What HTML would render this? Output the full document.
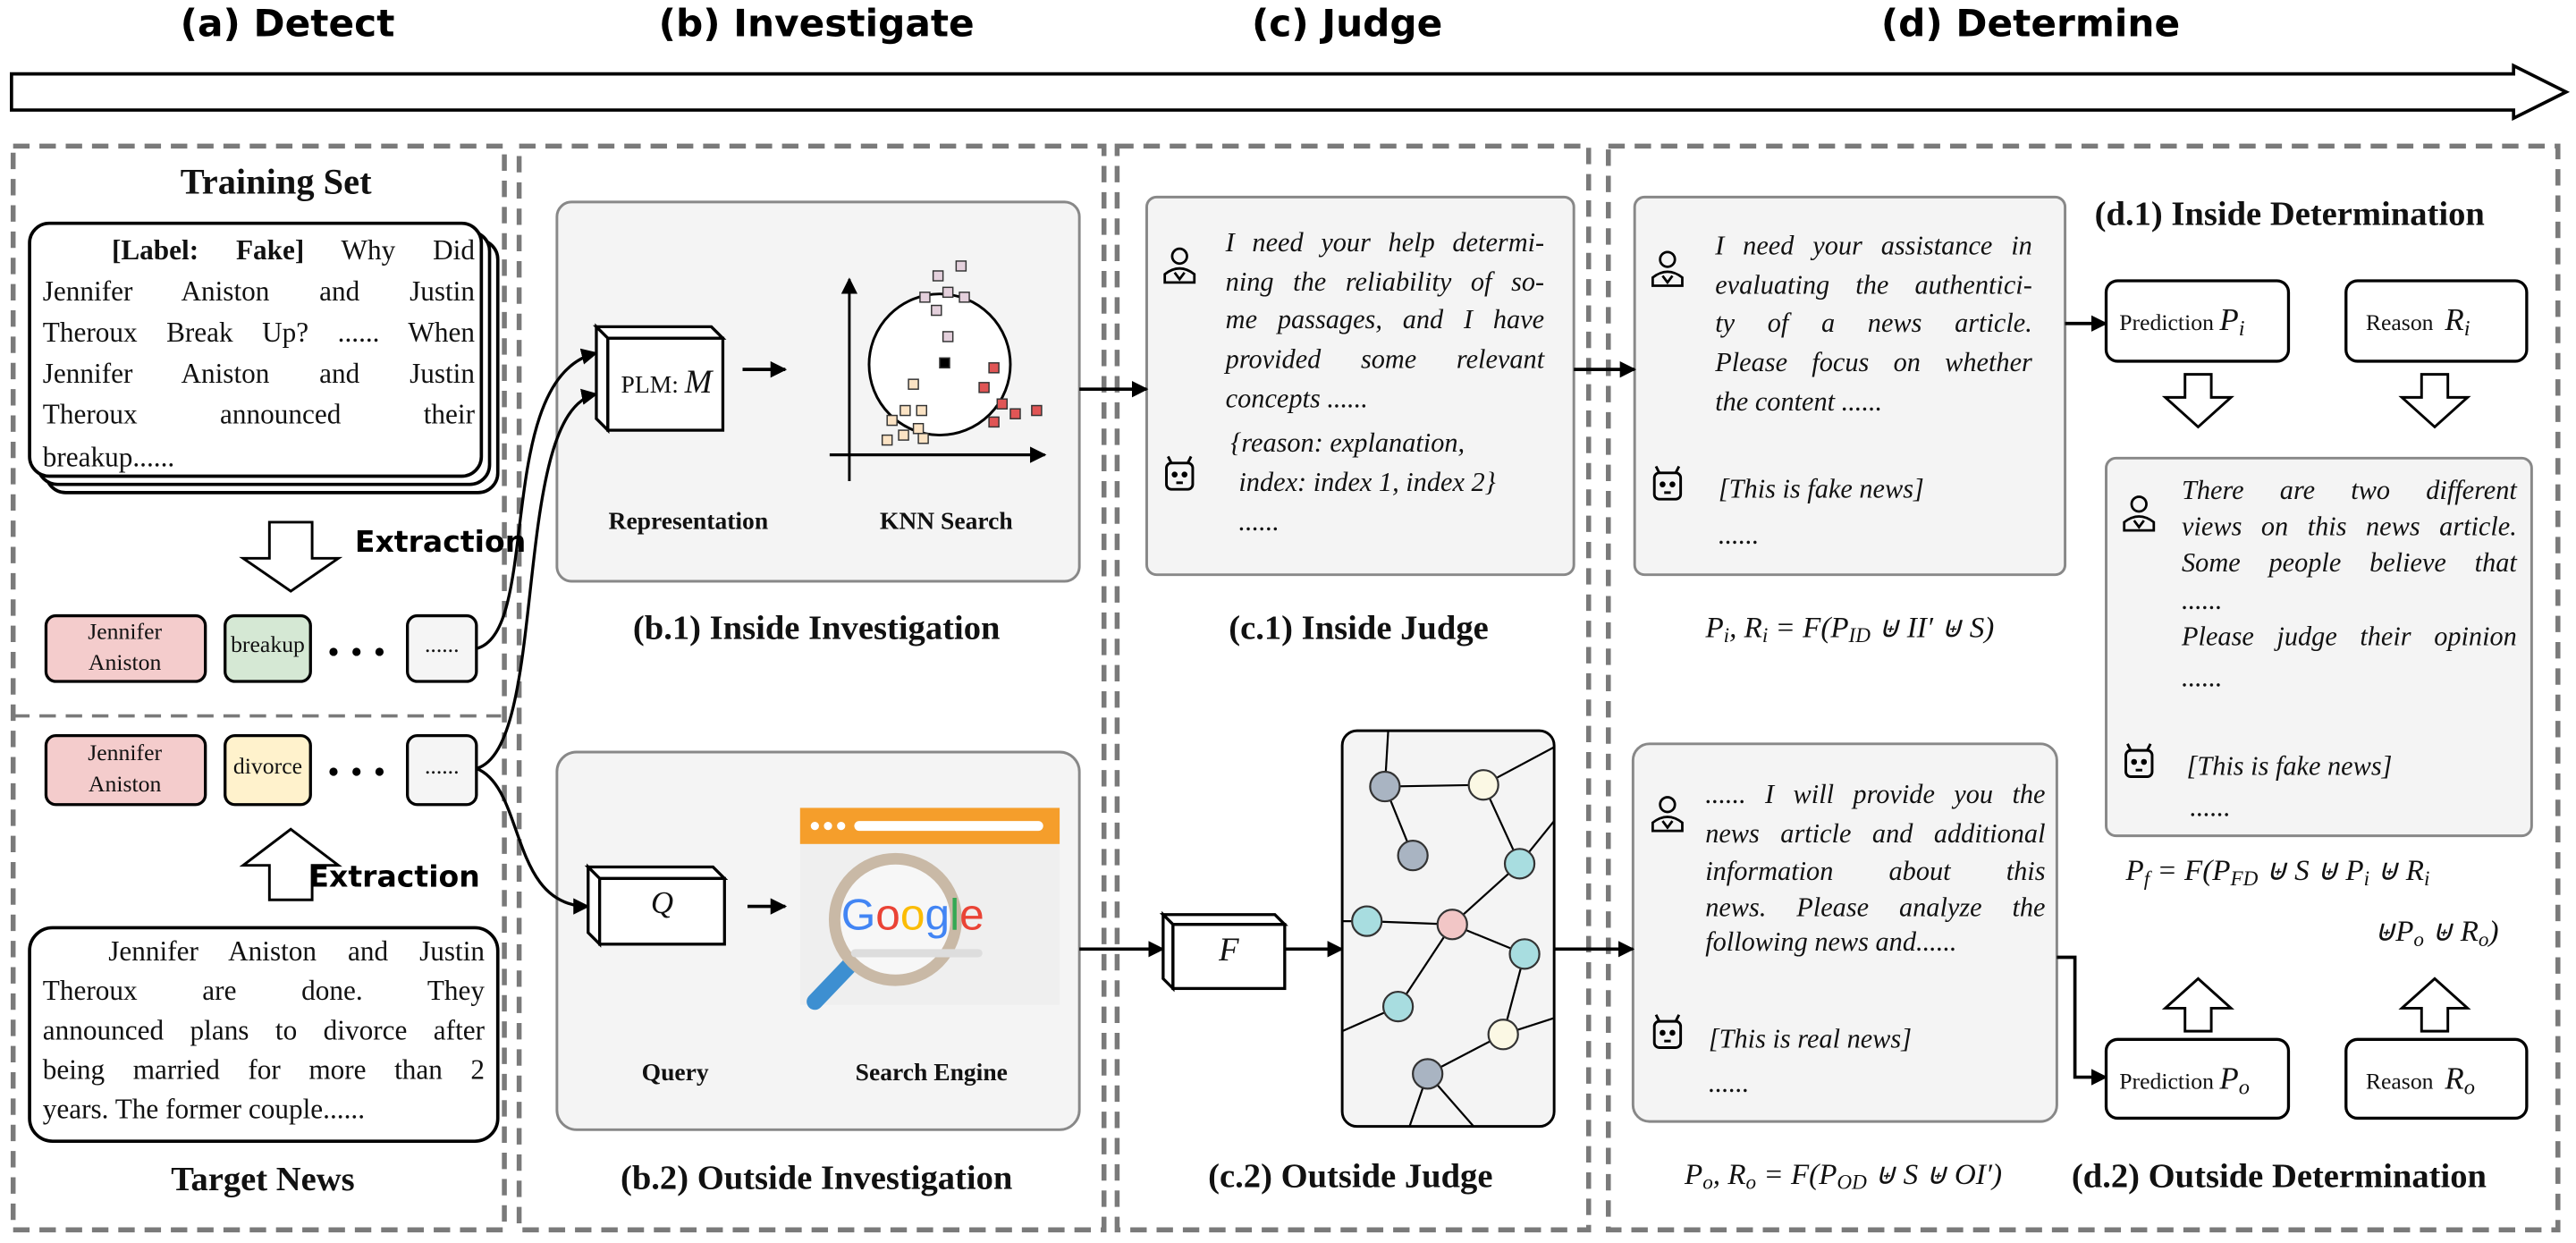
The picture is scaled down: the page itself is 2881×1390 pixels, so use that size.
<!DOCTYPE html>
<html><head><meta charset="utf-8">
<style>
html,body{margin:0;padding:0;background:#fff;}
body{width:2881px;height:1390px;overflow:hidden;}
#w{position:absolute;left:0;top:0;width:1568px;height:757px;transform:scale(1.83737,1.83620);transform-origin:0 0;}
svg{position:absolute;left:0;top:0;}
.t{position:absolute;font-family:"Liberation Serif",serif;color:#111;white-space:nowrap;}
.L{position:absolute;height:24px;line-height:24px;font-family:"Liberation Serif",serif;font-size:17px;text-align:justify;text-align-last:justify;color:#111;}
.Ll{text-align:left;text-align-last:left;}
.i{font-style:italic;font-size:16.5px;}
.h{position:absolute;font-family:"DejaVu Sans","Liberation Sans",sans-serif;font-weight:bold;font-size:23px;white-space:nowrap;}
.b{font-weight:bold;}
.c{transform:translateX(-50%);}
sub{font-size:70%;vertical-align:-0.25em;}
</style></head><body><div id="w">
<svg width="1568" height="757" viewBox="0 0 1568 757" xmlns="http://www.w3.org/2000/svg">
<defs><marker id="ar" markerWidth="10" markerHeight="10" refX="9" refY="5" orient="auto" markerUnits="userSpaceOnUse"><path d="M0,0 L10,5 L0,10 Z" fill="#000"/></marker></defs>
<path d="M7,45 H1530 V40 L1562,56 L1530,72 V67 H7 Z" fill="#fff" stroke="#000" stroke-width="2"/>
<g fill="none" stroke="#7a7a7a" stroke-width="3" stroke-dasharray="10 6">
<rect x="8" y="89" width="299" height="660"/>
<line x1="8" y1="436" x2="305" y2="436" stroke-width="2"/>
<rect x="316" y="89" width="356" height="660"/>
<rect x="680" y="89" width="287" height="660"/>
<rect x="979" y="89" width="578" height="660"/>
</g>
<g fill="#fff" stroke="#000" stroke-width="2">
<rect x="28" y="146" width="275" height="154" rx="12"/>
<rect x="23" y="141" width="275" height="154" rx="12"/>
<rect x="18" y="136" width="275" height="154" rx="12"/>
<rect x="18" y="565" width="285" height="130" rx="14"/>
</g>
<g fill="#fff" stroke="#000" stroke-width="1.6">
<path d="M164,318 H190 V340 H206 L177,360 L148,340 H164 Z"/>
<path d="M177,505 L206,527 H190 V548 H164 V527 H148 Z"/>
<path d="M1330,228 H1346 V242 H1358 L1338,260 L1318,242 H1330 Z"/>
<path d="M1474,228 H1490 V242 H1502 L1482,260 L1462,242 H1474 Z"/>
<path d="M1338,596 L1358,614 H1346 V628 H1330 V614 H1318 Z"/>
<path d="M1482,596 L1502,614 H1490 V628 H1474 V614 H1462 Z"/>
</g>
<g stroke="#000" stroke-width="1.8">
<rect x="28" y="375" width="97" height="40" rx="6" fill="#f4cccc"/>
<rect x="137" y="375" width="52" height="40" rx="6" fill="#d5e8d4"/>
<rect x="248" y="375" width="42" height="40" rx="6" fill="#f5f5f5"/>
<rect x="28" y="448" width="97" height="42" rx="6" fill="#f4cccc"/>
<rect x="137" y="448" width="52" height="42" rx="6" fill="#fff2cc"/>
<rect x="248" y="448" width="42" height="42" rx="6" fill="#f5f5f5"/>
</g>
<g fill="#000"><circle cx="203" cy="397" r="2.5"/><circle cx="217" cy="397" r="2.5"/><circle cx="231" cy="397" r="2.5"/>
<circle cx="203" cy="470" r="2.5"/><circle cx="217" cy="470" r="2.5"/><circle cx="231" cy="470" r="2.5"/></g>
<g fill="#f4f4f4" stroke="#888" stroke-width="1.6">
<rect x="339" y="123" width="318" height="231" rx="9"/>
<rect x="339" y="458" width="318" height="230" rx="12"/>
<rect x="698" y="120" width="260" height="230" rx="6"/>
<rect x="995" y="120" width="262" height="230" rx="6"/>
<rect x="1282" y="279" width="259" height="230" rx="6"/>
<rect x="994" y="453" width="258" height="230" rx="10"/>
</g>
<g fill="#fff" stroke="#000" stroke-width="1.8">
<path d="M363,199 H433 L440,206 H370 Z"/><path d="M363,199 L370,206 V262 L363,255 Z"/><rect x="370" y="206" width="70" height="56"/>
<path d="M358,528 H434 L441,535 H365 Z"/><path d="M358,528 L365,535 V575 L358,568 Z"/><rect x="365" y="535" width="76" height="40"/>
<path d="M708,557 H776 L782,563 H714 Z"/><path d="M708,557 L714,563 V602 L708,596 Z"/><rect x="714" y="563" width="68" height="39"/>
</g>
<g fill="none" stroke="#000" stroke-width="1.8" marker-end="url(#ar)">
<path d="M290,395 C330,385 300,230 363,215"/>
<path d="M290,468 C335,455 310,250 363,240"/>
<path d="M290,468 C320,480 310,552 358,552"/>
</g>
<g fill="none" stroke="#000" stroke-width="2" marker-end="url(#ar)">
<line x1="452" y1="225" x2="478" y2="225"/>
<line x1="455" y1="552" x2="478" y2="552"/>
<line x1="657" y1="237" x2="698" y2="237"/>
<line x1="958" y1="225" x2="995" y2="225"/>
<line x1="1257" y1="197" x2="1282" y2="197"/>
<line x1="657" y1="578" x2="708" y2="578"/>
<line x1="782" y1="578" x2="817" y2="578"/>
<line x1="946" y1="578" x2="994" y2="578"/>
<path d="M1252,583 H1263 V656 H1282"/>
</g>
<line x1="517" y1="293" x2="517" y2="170" stroke="#000" stroke-width="1.6" marker-end="url(#ar)"/>
<line x1="505" y1="277" x2="636" y2="277" stroke="#000" stroke-width="1.8" marker-end="url(#ar)"/>
<circle cx="572" cy="222" r="43" fill="#fff" stroke="#000" stroke-width="1.6"/>
<g stroke="#333" stroke-width="0.8">
<g fill="#e4d0dc"><rect x="568" y="165" width="6" height="6"/><rect x="582" y="159" width="6" height="6"/><rect x="574" y="175" width="6" height="6"/><rect x="560" y="178" width="6" height="6"/><rect x="584" y="178" width="6" height="6"/><rect x="567" y="186" width="6" height="6"/><rect x="574" y="202" width="6" height="6"/></g>
<rect x="572" y="218" width="6" height="6" fill="#000"/>
<g fill="#e05555"><rect x="602" y="221" width="6" height="6"/><rect x="596" y="233" width="6" height="6"/><rect x="607" y="243" width="6" height="6"/><rect x="615" y="249" width="6" height="6"/><rect x="602" y="254" width="6" height="6"/><rect x="628" y="247" width="6" height="6"/></g>
<g fill="#fbe3c4"><rect x="553" y="231" width="6" height="6"/><rect x="548" y="247" width="6" height="6"/><rect x="558" y="247" width="6" height="6"/><rect x="540" y="253" width="6" height="6"/><rect x="556" y="258" width="6" height="6"/><rect x="537" y="265" width="6" height="6"/><rect x="547" y="262" width="6" height="6"/><rect x="559" y="264" width="6" height="6"/></g>
</g>
<rect x="487" y="492" width="158" height="120" fill="#efefef"/>
<rect x="487" y="492" width="158" height="22" fill="#f59e2b"/>
<circle cx="496" cy="503" r="2.5" fill="#fff"/><circle cx="504" cy="503" r="2.5" fill="#fff"/><circle cx="512" cy="503" r="2.5" fill="#fff"/>
<rect x="520" y="500" width="115" height="6" rx="3" fill="#fff"/>
<line x1="517" y1="588" x2="496" y2="610" stroke="#3d8fd1" stroke-width="10" stroke-linecap="round"/>
<circle cx="545" cy="560" r="37" fill="#f7f7f7" stroke="#c9b9a6" stroke-width="7"/>
<rect x="518" y="578" width="80" height="5" rx="2.5" fill="#ddd"/>
<text x="512" y="566" font-family="Liberation Sans,sans-serif" font-size="27"><tspan fill="#4285f4">G</tspan><tspan fill="#ea4335">o</tspan><tspan fill="#fbbc05">o</tspan><tspan fill="#4285f4">g</tspan><tspan fill="#34a853">l</tspan><tspan fill="#ea4335">e</tspan></text>
<rect x="817" y="445" width="129" height="241" rx="9" fill="#f4f4f4" stroke="#000" stroke-width="1.6"/>
<g stroke="#000" stroke-width="1.2" fill="none">
<line x1="843" y1="479" x2="903" y2="478"/><line x1="843" y1="479" x2="845" y2="445"/><line x1="843" y1="479" x2="860" y2="521"/>
<line x1="903" y1="478" x2="946" y2="455"/><line x1="903" y1="478" x2="925" y2="526"/><line x1="925" y1="526" x2="946" y2="500"/>
<line x1="925" y1="526" x2="884" y2="563"/><line x1="832" y1="561" x2="884" y2="563"/><line x1="832" y1="561" x2="817" y2="561"/>
<line x1="884" y1="563" x2="928" y2="581"/><line x1="884" y1="563" x2="851" y2="613"/><line x1="928" y1="581" x2="915" y2="630"/>
<line x1="851" y1="613" x2="817" y2="628"/><line x1="915" y1="630" x2="869" y2="654"/><line x1="915" y1="630" x2="946" y2="620"/>
<line x1="869" y1="654" x2="858" y2="686"/><line x1="869" y1="654" x2="897" y2="686"/>
</g>
<g stroke="#333" stroke-width="1.2">
<circle cx="843" cy="479" r="9" fill="#a9b4c2"/><circle cx="903" cy="478" r="9" fill="#fbf8e4"/><circle cx="860" cy="521" r="9" fill="#a9b4c2"/>
<circle cx="925" cy="526" r="9" fill="#a8dde0"/><circle cx="832" cy="561" r="9" fill="#a8dde0"/><circle cx="884" cy="563" r="9" fill="#f2c6c6"/>
<circle cx="928" cy="581" r="9" fill="#a8dde0"/><circle cx="851" cy="613" r="9" fill="#a8dde0"/><circle cx="915" cy="630" r="9" fill="#fbf8e4"/>
<circle cx="869" cy="654" r="9" fill="#a9b4c2"/>
</g>
<g fill="#fff" stroke="#000" stroke-width="1.8">
<rect x="1282" y="171" width="111" height="49" rx="7"/><rect x="1428" y="171" width="110" height="49" rx="7"/>
<rect x="1282" y="633" width="111" height="48" rx="7"/><rect x="1428" y="633" width="110" height="48" rx="7"/>
</g>
<g id="person" fill="none" stroke="#000" stroke-width="1.5">
<circle cx="718" cy="156" r="4.5"/><path d="M709,172 V167 Q718,160 727,167 V172 Z"/><path d="M715,166 L718,170 L721,166"/>
</g>
<use href="#person" x="297" y="2"/><use href="#person" x="584" y="151"/><use href="#person" x="297" y="334"/>
<g id="robot" fill="none" stroke="#000" stroke-width="1.6">
<rect x="710" y="282" width="16" height="16" rx="3"/><line x1="713" y1="282" x2="711" y2="278"/><line x1="723" y1="282" x2="725" y2="278"/>
<circle cx="715" cy="289" r="1" fill="#000"/><circle cx="721" cy="289" r="1" fill="#000"/><line x1="716" y1="294" x2="720" y2="294"/>
</g>
<use href="#robot" x="297" y="6"/><use href="#robot" x="584" y="175"/><use href="#robot" x="297" y="340"/>
</svg>

<div class="h c" style="left:175px;top:2px">(a) Detect</div>
<div class="h c" style="left:497px;top:2px">(b) Investigate</div>
<div class="h c" style="left:820px;top:2px">(c) Judge</div>
<div class="h c" style="left:1236px;top:2px">(d) Determine</div>

<div class="t b c" style="left:168px;top:98px;font-size:22px">Training Set</div>
<div class="L" style="left:68px;top:141px;width:221px"><b>[Label: Fake]</b> Why Did</div>
<div class="L" style="left:26px;top:166px;width:263px">Jennifer Aniston and Justin</div>
<div class="L" style="left:26px;top:191px;width:263px">Theroux Break Up? ...... When</div>
<div class="L" style="left:26px;top:216px;width:263px">Jennifer Aniston and Justin</div>
<div class="L" style="left:26px;top:241px;width:263px">Theroux announced their</div>
<div class="L Ll" style="left:26px;top:267px;width:263px">breakup......</div>
<div class="h" style="left:216px;top:320px;font-size:18px">Extraction</div>
<div class="h" style="left:188px;top:524px;font-size:18px">Extraction</div>
<div class="t c" style="left:76px;top:376px;font-size:14px;line-height:19px;text-align:center">Jennifer<br>Aniston</div>
<div class="t c" style="left:163px;top:386px;font-size:14px">breakup</div>
<div class="t c" style="left:269px;top:386px;font-size:14px">......</div>
<div class="t c" style="left:76px;top:450px;font-size:14px;line-height:19px;text-align:center">Jennifer<br>Aniston</div>
<div class="t c" style="left:163px;top:460px;font-size:14px">divorce</div>
<div class="t c" style="left:269px;top:460px;font-size:14px">......</div>
<div class="L" style="left:66px;top:568px;width:229px">Jennifer Aniston and Justin</div>
<div class="L" style="left:26px;top:592px;width:269px">Theroux are done. They</div>
<div class="L" style="left:26px;top:616px;width:269px">announced plans to divorce after</div>
<div class="L" style="left:26px;top:640px;width:269px">being married for more than 2</div>
<div class="L Ll" style="left:26px;top:664px;width:269px">years. The former couple......</div>
<div class="t b c" style="left:160px;top:706px;font-size:21px">Target News</div>

<div class="t" style="left:378px;top:222px;font-size:15px">PLM: <i style="font-size:20px">M</i></div>
<div class="t b c" style="left:419px;top:310px;font-size:15px">Representation</div>
<div class="t b c" style="left:576px;top:310px;font-size:15px">KNN Search</div>
<div class="t b c" style="left:497px;top:370px;font-size:21px">(b.1) Inside Investigation</div>
<div class="t c" style="left:403px;top:540px;font-size:19px;font-style:italic">Q</div>
<div class="t b c" style="left:411px;top:646px;font-size:15px">Query</div>
<div class="t b c" style="left:567px;top:646px;font-size:15px">Search Engine</div>
<div class="t b c" style="left:497px;top:705px;font-size:21px">(b.2) Outside Investigation</div>

<div class="L i" style="left:746px;top:136px;width:194px">I need your help determi-</div>
<div class="L i" style="left:746px;top:160px;width:194px">ning the reliability of so-</div>
<div class="L i" style="left:746px;top:183px;width:194px">me passages, and I have</div>
<div class="L i" style="left:746px;top:207px;width:194px">provided some relevant</div>
<div class="L i Ll" style="left:746px;top:231px;width:194px">concepts ......</div>
<div class="L i Ll" style="left:749px;top:258px;width:200px">{reason: explanation,</div>
<div class="L i Ll" style="left:754px;top:282px;width:200px">index: index 1, index 2}</div>
<div class="L i Ll" style="left:754px;top:306px;width:200px">......</div>
<div class="t b c" style="left:827px;top:370px;font-size:21px">(c.1) Inside Judge</div>
<div class="t c" style="left:748px;top:568px;font-size:20px;font-style:italic">F</div>
<div class="t b c" style="left:822px;top:704px;font-size:21px">(c.2) Outside Judge</div>

<div class="L i" style="left:1044px;top:138px;width:193px">I need your assistance in</div>
<div class="L i" style="left:1044px;top:162px;width:193px">evaluating the authentici-</div>
<div class="L i" style="left:1044px;top:185px;width:193px">ty of a news article.</div>
<div class="L i" style="left:1044px;top:209px;width:193px">Please focus on whether</div>
<div class="L i Ll" style="left:1044px;top:233px;width:193px">the content ......</div>
<div class="L i Ll" style="left:1046px;top:286px;width:193px">[This is fake news]</div>
<div class="L i Ll" style="left:1046px;top:314px;width:193px">......</div>
<div class="t c" style="left:1126px;top:372px;font-size:18px;font-style:italic">P<sub>i</sub>, R<sub>i</sub> = F(P<sub>ID</sub> ⊎ II′ ⊎ S)</div>
<div class="t b" style="left:1275px;top:118px;font-size:21px">(d.1) Inside Determination</div>
<div class="t" style="left:1290px;top:185px;font-size:14px">Prediction <i style="font-size:19px">P<sub>i</sub></i></div>
<div class="t" style="left:1440px;top:185px;font-size:14px">Reason &nbsp;<i style="font-size:19px">R<sub>i</sub></i></div>
<div class="L i" style="left:1328px;top:287px;width:204px">There are two different</div>
<div class="L i" style="left:1328px;top:309px;width:204px">views on this news article.</div>
<div class="L i" style="left:1328px;top:331px;width:204px">Some people believe that</div>
<div class="L i Ll" style="left:1328px;top:354px;width:204px">......</div>
<div class="L i" style="left:1328px;top:376px;width:204px">Please judge their opinion</div>
<div class="L i Ll" style="left:1328px;top:401px;width:204px">......</div>
<div class="L i Ll" style="left:1331px;top:455px;width:204px">[This is fake news]</div>
<div class="L i Ll" style="left:1333px;top:480px;width:204px">......</div>
<div class="t" style="left:1294px;top:520px;font-size:18px;font-style:italic">P<sub>f</sub> = F(P<sub>FD</sub> ⊎ S ⊎ P<sub>i</sub> ⊎ R<sub>i</sub></div>
<div class="t" style="left:1445px;top:557px;font-size:18px;font-style:italic">⊎P<sub>o</sub> ⊎ R<sub>o</sub>)</div>
<div class="t" style="left:1290px;top:647px;font-size:14px">Prediction <i style="font-size:19px">P<sub>o</sub></i></div>
<div class="t" style="left:1440px;top:647px;font-size:14px">Reason &nbsp;<i style="font-size:19px">R<sub>o</sub></i></div>
<div class="L i" style="left:1038px;top:472px;width:207px">...... I will provide you the</div>
<div class="L i" style="left:1038px;top:496px;width:207px">news article and additional</div>
<div class="L i" style="left:1038px;top:519px;width:207px">information about this</div>
<div class="L i" style="left:1038px;top:541px;width:207px">news. Please analyze the</div>
<div class="L i Ll" style="left:1038px;top:562px;width:207px">following news and......</div>
<div class="L i Ll" style="left:1040px;top:621px;width:207px">[This is real news]</div>
<div class="L i Ll" style="left:1040px;top:648px;width:207px">......</div>
<div class="t c" style="left:1122px;top:705px;font-size:18px;font-style:italic">P<sub>o</sub>, R<sub>o</sub> = F(P<sub>OD</sub> ⊎ S ⊎ OI′)</div>
<div class="t b" style="left:1261px;top:704px;font-size:21px">(d.2) Outside Determination</div>
</div></body></html>
